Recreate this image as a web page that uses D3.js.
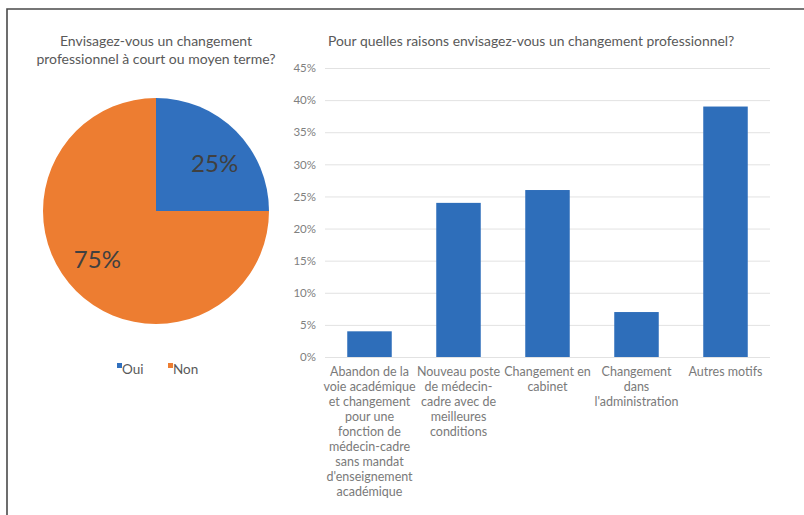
<!DOCTYPE html>
<meta charset="utf-8">
<head>
	<title>Changement professionnel</title>
</head>
<style>
	body { margin: 0; background: #fff; }
	svg { display: block; font-family: "Lato", "Open Sans", sans-serif; }
</style>
<body>
<svg id="chart" width="804" height="515"></svg>

<script src="https://d3js.org/d3.v7.min.js"></script>
<script>

	// pie data
	var pieLabels = ["Oui", "Non"];
	var pieValues = [25, 75];
	var pieColors = ["#3170BE", "#ED7D31"];

	// bar data
	var barCategories = [
		["Abandon de la", "voie académique", "et changement", "pour une", "fonction de", "médecin-cadre", "sans mandat", "d'enseignement", "académique"],
		["Nouveau poste", "de médecin-", "cadre avec de", "meilleures", "conditions"],
		["Changement en", "cabinet"],
		["Changement", "dans", "l'administration"],
		["Autres motifs"]
	];
	var barValues = [4, 24, 26, 7, 39];
	var yTicks = [0, 5, 10, 15, 20, 25, 30, 35, 40, 45];

	var svg = d3.select("#chart");

	// frame
	svg.append("path")
		.attr("d", "M7,515 L7,9 L804,9")
		.attr("fill", "none")
		.attr("stroke", "#4a4a4a")
		.attr("stroke-width", 1.6);

	// ---- pie ----
	svg.append("text")
		.attr("x", 156).attr("y", 46)
		.attr("text-anchor", "middle")
		.attr("fill", "#595959")
		.style("font-size", "14px")
		.text("Envisagez-vous un changement");
	svg.append("text")
		.attr("x", 156).attr("y", 64)
		.attr("text-anchor", "middle")
		.attr("fill", "#595959")
		.style("font-size", "14px")
		.text("professionnel à court ou moyen terme?");

	var radius = 113;
	var pieG = svg.append("g").attr("transform", "translate(156,211)");
	var pie = d3.pie().sort(null).value(function(d) { return d; });
	var arc = d3.arc().innerRadius(0).outerRadius(radius);
	var slices = pie(pieValues);

	pieG.selectAll("path")
		.data(slices)
		.enter().append("path")
		.attr("d", arc)
		.attr("fill", function(d, i) { return pieColors[i]; });

	// labels sit a little clockwise of the slice middle, like the original
	pieG.selectAll(".plabel")
		.data(slices)
		.enter().append("text")
		.attr("class", "plabel")
		.attr("transform", function(d) {
			var a = (d.startAngle + d.endAngle) / 2 + 0.1;
			var r = radius * 0.67;
			return "translate(" + (Math.sin(a) * r) + "," + (-Math.cos(a) * r) + ")";
		})
		.attr("text-anchor", "middle")
		.attr("dy", "0.36em")
		.attr("fill", "#404040")
		.style("font-size", "24px")
		.text(function(d) { return d.data + "%"; });

	var legend = svg.append("g").attr("transform", "translate(117,374)");
	var legX = [0, 51];
	pieLabels.forEach(function(name, i) {
		legend.append("rect")
			.attr("x", legX[i]).attr("y", -11)
			.attr("width", 5).attr("height", 5)
			.attr("fill", pieColors[i]);
		legend.append("text")
			.attr("x", legX[i] + 5).attr("y", 0)
			.attr("fill", "#595959")
			.style("font-size", "13.5px")
			.text(name);
	});

	// ---- bars ----
	svg.append("text")
		.attr("x", 328).attr("y", 46)
		.attr("fill", "#595959")
		.style("font-size", "13.9px")
		.text("Pour quelles raisons envisagez-vous un changement professionnel?");

	var x = d3.scaleBand()
		.domain(d3.range(barValues.length))
		.range([325, 770])
		.paddingInner(0.5)
		.paddingOuter(0.25);
	var y = d3.scaleLinear().domain([0, 45]).range([357, 68]);

	var yAxis = svg.append("g")
		.attr("transform", "translate(325,0)")
		.call(d3.axisLeft(y).tickValues(yTicks).tickSize(-445).tickFormat(function(d) { return d + "%"; }));
	yAxis.select(".domain").remove();
	yAxis.selectAll(".tick line").attr("stroke", "#e2e2e2");
	yAxis.selectAll(".tick text")
		.attr("x", -9)
		.attr("fill", "#808080")
		.style("font-size", "11.5px")
		.style("font-family", "Lato, 'Open Sans', sans-serif");

	svg.selectAll(".bar")
		.data(barValues)
		.enter().append("rect")
		.attr("class", "bar")
		.attr("x", function(d, i) { return x(i); })
		.attr("y", function(d) { return y(d); })
		.attr("width", x.bandwidth())
		.attr("height", function(d) { return y(0) - y(d); })
		.attr("fill", "#2E6EBA");

	var catG = svg.selectAll(".cat")
		.data(barCategories)
		.enter().append("text")
		.attr("class", "cat")
		.attr("text-anchor", "middle")
		.attr("fill", "#7a7a7a")
		.style("font-size", "12.5px");
	catG.selectAll("tspan")
		.data(function(d, i) { return d.map(function(line) { return { line: line, i: i }; }); })
		.enter().append("tspan")
		.attr("x", function(d) { return x(d.i) + x.bandwidth() / 2; })
		.attr("y", function(d, j) { return 376 + j * 15; })
		.text(function(d) { return d.line; });

</script>
</body>
</html>
